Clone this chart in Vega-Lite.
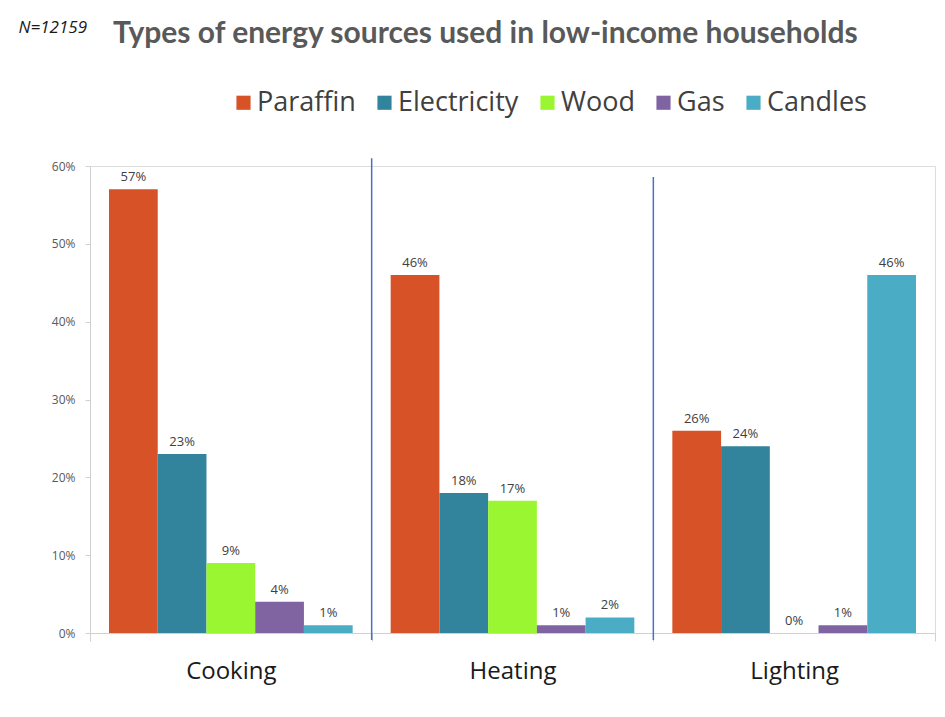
{
  "$schema": "https://vega.github.io/schema/vega-lite/v6.json",
  "autosize": "none",
  "width": 845,
  "height": 467,
  "padding": {"left": 90, "top": 166, "right": 10, "bottom": 84},
  "background": "white",
  "title": {
    "text": "Types of energy sources used in low-income households",
    "anchor": "start",
    "frame": "group",
    "dx": 23,
    "offset": -55,
    "baseline": "alphabetic",
    "font": "Lato",
    "fontSize": 30,
    "fontWeight": "bold",
    "color": "#595959"
  },
  "datasets": {
    "bars": [
      {"use": "Cooking", "source": "Paraffin", "share": 0.57},
      {"use": "Cooking", "source": "Electricity", "share": 0.23},
      {"use": "Cooking", "source": "Wood", "share": 0.09},
      {"use": "Cooking", "source": "Gas", "share": 0.04},
      {"use": "Cooking", "source": "Candles", "share": 0.01},
      {"use": "Heating", "source": "Paraffin", "share": 0.46},
      {"use": "Heating", "source": "Electricity", "share": 0.18},
      {"use": "Heating", "source": "Wood", "share": 0.17},
      {"use": "Heating", "source": "Gas", "share": 0.01},
      {"use": "Heating", "source": "Candles", "share": 0.02},
      {"use": "Lighting", "source": "Paraffin", "share": 0.26},
      {"use": "Lighting", "source": "Electricity", "share": 0.24},
      {"use": "Lighting", "source": "Wood", "share": 0.0},
      {"use": "Lighting", "source": "Gas", "share": 0.01},
      {"use": "Lighting", "source": "Candles", "share": 0.46}
    ],
    "dividers": [
      {"use": "Heating", "low": -0.009, "high": 0.61},
      {"use": "Lighting", "low": -0.009, "high": 0.586}
    ]
  },
  "layer": [
    {
      "data": {"name": "bars"},
      "mark": {"type": "bar"},
      "encoding": {
        "x": {"field": "use", "type": "nominal", "sort": ["Cooking", "Heating", "Lighting"],
              "scale": {"paddingInner": 0, "paddingOuter": 0},
              "axis": {"title": null, "labelAngle": 0, "labelFontSize": 24, "labelFont": "Open Sans", "labelColor": "#1a1a1a",
                       "labelPadding": 18, "domainColor": "#d0d0d0", "tickColor": "#d0d0d0", "tickBand": "extent", "tickSize": 8}},
        "xOffset": {"field": "source", "type": "nominal", "sort": ["Paraffin", "Electricity", "Wood", "Gas", "Candles"],
                    "scale": {"paddingInner": 0, "paddingOuter": 0.39}},
        "y": {"field": "share", "type": "quantitative",
              "scale": {"domain": [0, 0.6], "nice": false},
              "axis": {"format": ".0%", "values": [0, 0.1, 0.2, 0.3, 0.4, 0.5, 0.6], "grid": false,
                       "labelFontSize": 12, "labelFont": "Open Sans", "labelColor": "#595959", "labelPadding": 10,
                       "domainColor": "#d0d0d0", "tickColor": "#d0d0d0", "tickSize": 5,
                       "title": "N=12159", "titleAngle": 0, "titleX": -72, "titleY": -134, "titleAlign": "left",
                       "titleBaseline": "alphabetic", "titleFont": "Open Sans", "titleFontStyle": "italic",
                       "titleFontWeight": "normal", "titleFontSize": 17, "titleColor": "#1a1a1a"}},
        "color": {"field": "source", "type": "nominal", "sort": ["Paraffin", "Electricity", "Wood", "Gas", "Candles"],
                  "scale": {"domain": ["Paraffin", "Electricity", "Wood", "Gas", "Candles"],
                            "range": ["#D85228", "#31849B", "#99F631", "#8064A2", "#4BACC6"]},
                  "legend": {"title": null, "orient": "none", "direction": "horizontal", "columns": 5,
                             "legendX": 140, "legendY": -77, "symbolType": "square", "symbolSize": 200,
                             "labelFont": "Open Sans", "labelFontSize": 27, "labelColor": "#404040",
                             "labelOffset": 0, "columnPadding": 15, "symbolStrokeWidth": 0}}
      }
    },
    {
      "data": {"name": "bars"},
      "mark": {"type": "text", "baseline": "bottom", "dy": -5, "font": "Open Sans", "fontSize": 13, "color": "#404040"},
      "encoding": {
        "x": {"field": "use", "type": "nominal", "sort": ["Cooking", "Heating", "Lighting"]},
        "xOffset": {"field": "source", "type": "nominal", "sort": ["Paraffin", "Electricity", "Wood", "Gas", "Candles"]},
        "y": {"field": "share", "type": "quantitative"},
        "text": {"field": "share", "type": "quantitative", "format": ".0%"}
      }
    },
    {
      "data": {"name": "dividers"},
      "mark": {"type": "rule", "color": "#4472C4", "strokeWidth": 1.5},
      "encoding": {
        "x": {"field": "use", "type": "nominal", "sort": ["Cooking", "Heating", "Lighting"], "bandPosition": 0},
        "y": {"field": "low", "type": "quantitative"},
        "y2": {"field": "high"}
      }
    }
  ]
}
